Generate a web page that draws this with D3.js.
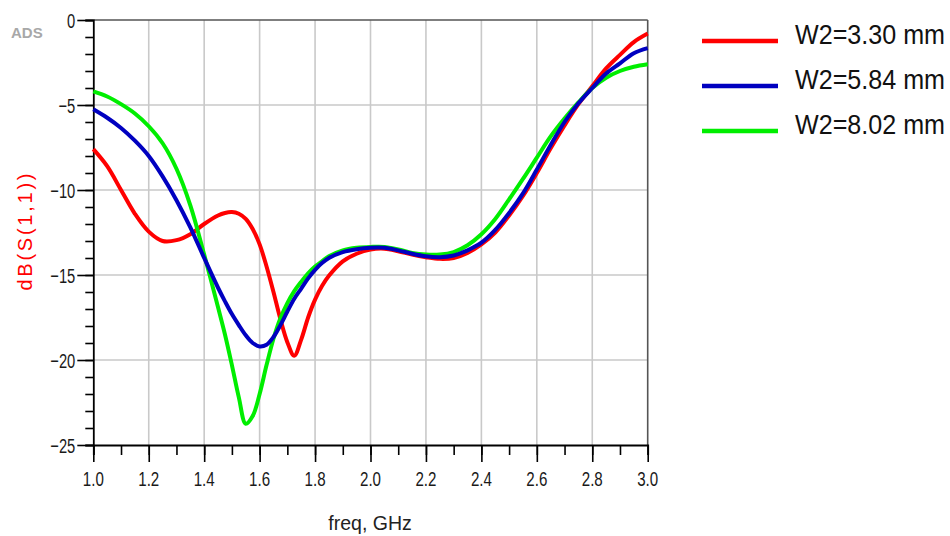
<!DOCTYPE html>
<html>
<head>
<meta charset="utf-8">
<script src="https://cdn.jsdelivr.net/npm/d3@7/dist/d3.min.js"></script>
<style>
  html, body { margin: 0; padding: 0; background: #fff; }
  svg { display: block; }
  text { font-family: "Liberation Sans", Arial, sans-serif; }
</style>
</head>
<body>
<svg id="chart" width="950" height="536"></svg>
<script>
// Frequency sweep (GHz) — denser between 1.45 and 1.85 where the resonances sit
const freq = [1.00, 1.05, 1.10, 1.15, 1.20, 1.25, 1.30, 1.35, 1.40, 1.45,
  1.475, 1.50, 1.525, 1.55, 1.575, 1.60, 1.625, 1.65, 1.675, 1.70, 1.725,
  1.75, 1.775, 1.80, 1.825, 1.85,
  1.90, 1.95, 2.00, 2.05, 2.10, 2.15, 2.20, 2.25, 2.30, 2.35, 2.40, 2.45,
  2.50, 2.55, 2.60, 2.65, 2.70, 2.75, 2.80, 2.85, 2.90, 2.95, 3.00];

// dB(S(1,1)) for each stub width
const s11_w330 = [-7.6, -8.6, -10.0, -11.4, -12.45, -13.0, -12.95, -12.6, -12.0, -11.5,
  -11.35, -11.3, -11.4, -11.7, -12.3, -13.2, -14.5, -16.0, -17.6, -18.95, -19.75,
  -18.8, -17.5, -16.45, -15.65, -15.05,
  -14.2, -13.75, -13.5, -13.45, -13.6, -13.8, -13.95, -14.05, -14.0, -13.7, -13.2, -12.5,
  -11.5, -10.35, -9.0, -7.55, -6.2, -4.95, -3.9, -2.85, -2.05, -1.3, -0.8];

const s11_w584 = [-5.25, -5.75, -6.35, -7.1, -8.0, -9.2, -10.6, -12.2, -14.0, -15.75,
  -16.55, -17.3, -17.95, -18.55, -19.0, -19.2, -19.1, -18.65, -17.95, -17.15, -16.4,
  -15.8, -15.2, -14.7, -14.3, -14.0,
  -13.65, -13.48, -13.4, -13.4, -13.55, -13.75, -13.9, -13.95, -13.85, -13.55, -13.1, -12.35,
  -11.35, -10.2, -8.8, -7.35, -6.0, -4.9, -4.0, -3.15, -2.55, -1.95, -1.65];

const s11_w802 = [-4.2, -4.5, -4.95, -5.5, -6.25, -7.25, -8.75, -10.9, -13.8, -16.9,
  -18.5, -20.3, -22.2, -23.75, -23.3, -22.0, -20.3, -18.75, -17.55, -16.65, -15.95,
  -15.4, -14.9, -14.5, -14.2, -13.9,
  -13.55, -13.4, -13.35, -13.35, -13.5, -13.7, -13.8, -13.8, -13.65, -13.25, -12.6, -11.7,
  -10.55, -9.35, -8.1, -6.85, -5.8, -4.85, -4.0, -3.4, -3.0, -2.75, -2.6];

const seriesNames = ["W2=3.30 mm", "W2=5.84 mm", "W2=8.02 mm"];
const seriesColors = ["#ff0000", "#0000c0", "#00ee00"];
const seriesValues = [s11_w330, s11_w584, s11_w802];

const xMajorTicks = [1.0, 1.2, 1.4, 1.6, 1.8, 2.0, 2.2, 2.4, 2.6, 2.8, 3.0];
const yMajorTicks = [0, -5, -10, -15, -20, -25];

const xTitle = "freq, GHz";
const yTitle = "dB(S(1,1))";

// ---- layout
const plot = { left: 93.3, right: 647.7, top: 20, bottom: 445 };
const svg = d3.select("#chart");

const x = d3.scaleLinear().domain([1.0, 3.0]).range([plot.left, plot.right]);
const y = d3.scaleLinear().domain([-25, 0]).range([plot.bottom, plot.top]);

// grid
const grid = svg.append("g").attr("stroke", "#c9c9c9").attr("stroke-width", 1.6);
xMajorTicks.slice(1, -1).forEach(v => {
  grid.append("line").attr("x1", x(v)).attr("x2", x(v))
    .attr("y1", plot.top).attr("y2", plot.bottom);
});
yMajorTicks.slice(1, -1).forEach(v => {
  grid.append("line").attr("x1", plot.left).attr("x2", plot.right)
    .attr("y1", y(v)).attr("y2", y(v));
});

// frame: top and right in dark grey
svg.append("line").attr("x1", plot.left).attr("x2", plot.right)
  .attr("y1", plot.top).attr("y2", plot.top)
  .attr("stroke", "#555").attr("stroke-width", 1.6);
svg.append("line").attr("x1", plot.right).attr("x2", plot.right)
  .attr("y1", plot.top).attr("y2", plot.bottom)
  .attr("stroke", "#555").attr("stroke-width", 1.6);

// condensed tick labels
function tickLabel(g, tx, ty, str, anchor, size) {
  g.append("g").attr("transform", `translate(${tx},${ty}) scale(0.72,1)`)
    .append("text").attr("text-anchor", anchor)
    .attr("font-size", size).attr("fill", "#1a1a1a").text(str);
}

// y axis
const yMinor = d3.range(-25, 1, 1);
const yAxis = svg.append("g")
  .attr("transform", `translate(${plot.left},0)`)
  .call(d3.axisLeft(y).tickValues(yMinor).tickSize(8).tickFormat(""));
yAxis.select(".domain").attr("stroke", "#000").attr("stroke-width", 1.8);
yAxis.selectAll(".tick line").attr("stroke", "#000").attr("stroke-width", 1.6);
const yAxisMajor = svg.append("g")
  .attr("transform", `translate(${plot.left},0)`)
  .call(d3.axisLeft(y).tickValues(yMajorTicks).tickSize(16).tickFormat(""));
yAxisMajor.select(".domain").remove();
yAxisMajor.selectAll(".tick line").attr("stroke", "#000").attr("stroke-width", 1.6);
yMajorTicks.forEach(v => tickLabel(svg, plot.left - 18, y(v) + 7.5, d3.format("d")(v), "end", 20.5));

// x axis
const xMinor = d3.range(10, 31, 1).map(d => d / 10);
const xAxis = svg.append("g")
  .attr("transform", `translate(0,${plot.bottom})`)
  .call(d3.axisBottom(x).tickValues(xMinor).tickSize(10).tickFormat(""));
xAxis.select(".domain").attr("stroke", "#000").attr("stroke-width", 1.8);
xAxis.selectAll(".tick line").attr("stroke", "#000").attr("stroke-width", 1.6);
const xAxisMajor = svg.append("g")
  .attr("transform", `translate(0,${plot.bottom})`)
  .call(d3.axisBottom(x).tickValues(xMajorTicks).tickSize(17).tickFormat(""));
xAxisMajor.select(".domain").remove();
xAxisMajor.selectAll(".tick line").attr("stroke", "#000").attr("stroke-width", 1.6);
xMajorTicks.forEach(v => tickLabel(svg, x(v), 486, d3.format(".1f")(v), "middle", 21));

// axis titles
svg.append("text").attr("x", 370).attr("y", 530).attr("text-anchor", "middle")
  .attr("font-size", 19.5).attr("fill", "#222").text(xTitle);
svg.append("text")
  .attr("transform", "translate(32,232) rotate(-90)")
  .attr("text-anchor", "middle").attr("font-size", 20).attr("fill", "#ff0000")
  .attr("textLength", 117).attr("lengthAdjust", "spacing")
  .text(yTitle);

// ADS tag
svg.append("text").attr("x", 11).attr("y", 38)
  .attr("font-size", 15).attr("font-weight", "bold").attr("fill", "#a8a8a8")
  .text("ADS");

// curves
const line = d3.line()
  .x((d, i) => x(freq[i]))
  .y(d => y(d))
  .curve(d3.curveCatmullRom.alpha(0.5));

[0, 2, 1].forEach(k => {
  svg.append("path")
    .datum(seriesValues[k])
    .attr("fill", "none")
    .attr("stroke", seriesColors[k])
    .attr("stroke-width", 4)
    .attr("stroke-linejoin", "round")
    .attr("d", line);
});

// legend
const legendRowY = [44, 89, 134];
seriesNames.forEach((name, k) => {
  const g = svg.append("g");
  g.append("line")
    .attr("x1", 702).attr("x2", 778)
    .attr("y1", legendRowY[k] - 3).attr("y2", legendRowY[k] - 3)
    .attr("stroke", seriesColors[k]).attr("stroke-width", 4.5);
  g.append("g").attr("transform", `translate(795,${legendRowY[k]}) scale(0.93,1)`)
    .append("text").attr("font-size", 27).attr("fill", "#111").text(name);
});
</script>
</body>
</html>
